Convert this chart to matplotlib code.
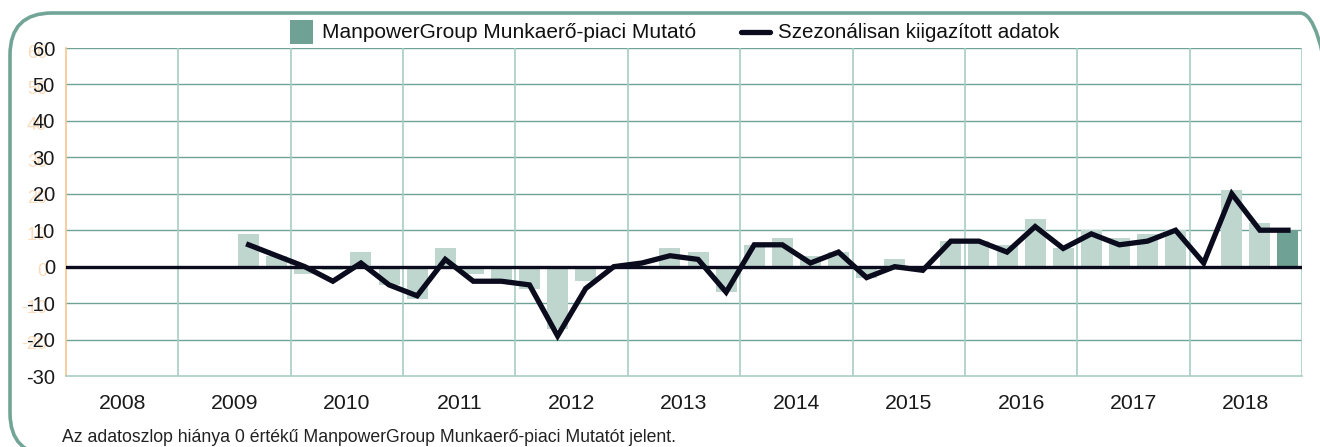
import matplotlib
matplotlib.use("Agg")
import matplotlib.pyplot as plt
from matplotlib.patches import FancyBboxPatch, Rectangle
from matplotlib.lines import Line2D
import matplotlib.transforms as mtransforms
import numpy as np

plt.rcParams['font.family'] = ['Liberation Sans', 'DejaVu Sans']

# ---------------- data ----------------
years = ["2008", "2009", "2010", "2011", "2012", "2013", "2014", "2015", "2016", "2017", "2018"]
first_quarter_index = 6  # data start at 2009 Q3 (2008 Q1 = 0)

# ManpowerGroup Munkaerő-piaci Mutató (quarterly, 2009 Q3 - 2018 Q4)
mutato = [9, 3,
          -2, -1, 4, -5,
          -9, 5, -2, -4,
          -6, -17, -4, 0,
          0, 5, 4, -7,
          6, 8, 3, 4,
          -3, 2, 0, 7,
          7, 6, 13, 5,
          10, 8, 9, 10,
          0, 21, 12, 10]

# Szezonálisan kiigazított adatok
szezonalis = [6, 3,
              0, -4, 1, -5,
              -8, 2, -4, -4,
              -5, -19, -6, 0,
              1, 3, 2, -7,
              6, 6, 1, 4,
              -3, 0, -1, 7,
              7, 4, 11, 5,
              9, 6, 7, 10,
              1, 20, 10, 10]

yticks = [-30, -20, -10, 0, 10, 20, 30, 40, 50, 60]

legend_bar = "ManpowerGroup Munkaerő-piaci Mutató"
legend_line = "Szezonálisan kiigazított adatok"
footnote = "Az adatoszlop hiánya 0 értékű ManpowerGroup Munkaerő-piaci Mutatót jelent."

# ---------------- style ----------------
BAR_LIGHT = "#bfd6cf"
BAR_DARK = "#6fa194"
GRID_H = "#6fa396"
GRID_V = "#a8cdc4"
BORDER = "#72a597"
ORANGE = "#f7c58f"
LINE_C = "#0b0b1e"

W, H = 1320, 447
fig = plt.figure(figsize=(W / 100, H / 100), dpi=100)
ax = fig.add_axes([66 / W, 1 - 376 / H, (1302 - 66) / W, (376 - 48) / H])

n_q = len(years) * 4
x = np.arange(first_quarter_index, first_quarter_index + len(mutato))
colors = [BAR_LIGHT] * (len(mutato) - 1) + [BAR_DARK]
ax.bar(x, mutato, width=0.75, color=colors, zorder=2, linewidth=0)
ax.axhline(0, color=LINE_C, lw=2.4, zorder=3)
ax.plot(x, szezonalis, color=LINE_C, lw=3.8, zorder=4, solid_joinstyle='miter')

ax.set_xlim(-0.5, n_q - 0.5)
ax.set_ylim(-30, 60)

# horizontal grid
for v in yticks[1:]:
    ax.axhline(v, color=GRID_H, lw=1.0, zorder=1)
# vertical year separators
for k in range(1, len(years) + 1):
    ax.axvline(-0.5 + 4 * k, color=GRID_V, lw=1.2, zorder=1)

ax.set_yticks(yticks)
ax.set_yticklabels([str(v) for v in yticks], fontsize=14.5, color="#1a1a1a")
ax.set_xticks([1.5 + 4 * i for i in range(len(years))])
ax.set_xticklabels(years, fontsize=15.3, color="#1a1a1a")
ax.tick_params(axis='both', length=0)
ax.tick_params(axis='y', pad=8)
ax.tick_params(axis='x', pad=13)

for s in ['top', 'right']:
    ax.spines[s].set_visible(False)
ax.spines['left'].set_color(ORANGE)
ax.spines['left'].set_linewidth(1.2)
ax.spines['bottom'].set_color(GRID_V)
ax.spines['bottom'].set_linewidth(1.2)

# faint duplicate (orange) y labels behind the black ones
off = mtransforms.ScaledTranslation(-0.19, -0.05, fig.dpi_scale_trans)
trans = mtransforms.blended_transform_factory(ax.transAxes, ax.transData) + off
for v in yticks[1:]:
    ax.text(0.0, v, str(v), transform=trans, ha='right', va='center',
            fontsize=13, color=ORANGE, alpha=0.6, zorder=0, clip_on=False)

# ---------------- legend (manual) ----------------
fig.patches.append(Rectangle((290 / W, 1 - 44 / H), 23 / W, 24 / H,
                             transform=fig.transFigure, color=BAR_DARK, lw=0))
fig.text(322 / W, 1 - 32 / H, legend_bar, fontsize=15, va='center', ha='left', color="#111111")
fig.lines.append(Line2D([741 / W, 770 / W], [1 - 32 / H, 1 - 32 / H], transform=fig.transFigure,
                        color=LINE_C, lw=3.8, solid_capstyle='round'))
fig.text(778 / W, 1 - 32 / H, legend_line, fontsize=14.8, va='center', ha='left', color="#111111")

# footnote
fig.text(62 / W, 1 - 437 / H, footnote, fontsize=12.7, va='center', ha='left', color="#222222")

# rounded border (pixel coordinates)
border = FancyBboxPatch((10, H - 455), 1342 - 10, 455 - 13,
                        boxstyle="round,pad=0,rounding_size=42",
                        transform=mtransforms.IdentityTransform(), fill=False,
                        edgecolor=BORDER, lw=2.6, clip_on=False)
fig.patches.append(border)

fig.savefig("out.png", dpi=100)
